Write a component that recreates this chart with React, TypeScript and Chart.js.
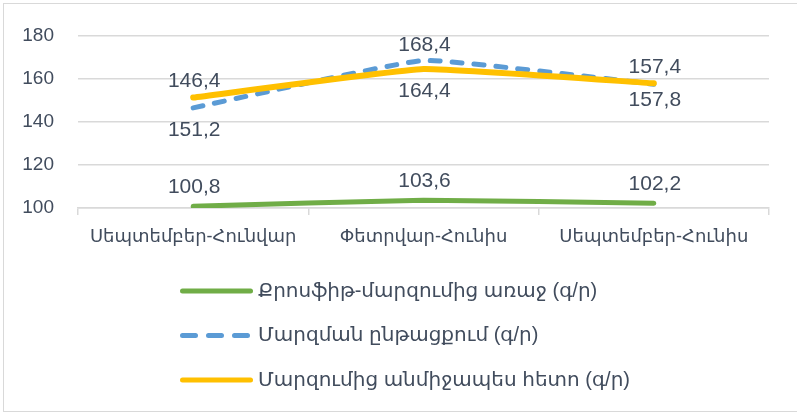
import React, { useEffect, useRef } from "react";
import { Chart, registerables } from "chart.js";

Chart.register(...registerables);

const categories = ["Սեպտեմբեր-Հունվար", "Փետրվար-Հունիս", "Սեպտեմբեր-Հունիս"];
const seriesNames = [
  "Քրոսֆիթ-մարզումից առաջ (գ/ր)",
  "Մարզման ընթացքում (գ/ր)",
  "Մարզումից անմիջապես հետո (գ/ր)",
];
const beforeValues = [100.8, 103.6, 102.2];
const duringValues = [146.4, 168.4, 157.4];
const afterValues = [151.2, 164.4, 157.8];
const yTicks = [100, 120, 140, 160, 180];

const TEXT = "#414C5D";
const FONT = '"Liberation Sans", "DejaVu Sans", sans-serif';
const GREEN = "#70AD47";
const BLUE = "#5B9BD5";
const YELLOW = "#FFC000";

const labelsPlugin = {
  id: "valueLabels",
  afterDatasetsDraw(chart: any) {
    const ctx = chart.ctx;
    ctx.save();
    ctx.font = `21px ${FONT}`;
    ctx.fillStyle = TEXT;
    ctx.textAlign = "center";
    ctx.textBaseline = "middle";
    chart.data.datasets.forEach((ds: any, di: number) => {
      const meta = chart.getDatasetMeta(di);
      meta.data.forEach((pt: any, i: number) => {
        const v = ds.data[i];
        const off = ds.labelOffsets ? ds.labelOffsets[i] : -18;
        ctx.fillText(v.toFixed(1).replace(".", ","), pt.x + 1, pt.y + off);
      });
    });
    ctx.restore();
  },
};

const legendPlugin = {
  id: "vLegend",
  afterDraw(chart: any) {
    const ctx = chart.ctx;
    ctx.save();
    const x0 = 180;
    const len = 73;
    const y0 = 291;
    const gap = 44.5;
    chart.data.datasets.forEach((ds: any, i: number) => {
      const y = y0 + i * gap;
      ctx.beginPath();
      ctx.lineWidth = 5;
      ctx.lineCap = "round";
      ctx.strokeStyle = ds.borderColor;
      ctx.setLineDash(ds.legendDash || []);
      ctx.moveTo(x0 + 2.5, y);
      ctx.lineTo(x0 + len - 2.5, y);
      ctx.stroke();
      ctx.setLineDash([]);
      ctx.font = `20px ${FONT}`;
      ctx.fillStyle = TEXT;
      ctx.textAlign = "left";
      ctx.textBaseline = "middle";
      ctx.fillText(ds.label, x0 + len + 5, y);
    });
    // outer frame
    ctx.strokeStyle = "#D9D9D9";
    ctx.lineWidth = 1;
    ctx.strokeRect(3.5, 3.5, chart.width + 10, 408);
    ctx.restore();
  },
};

export default function App() {
  const ref = useRef<HTMLCanvasElement>(null);
  useEffect(() => {
    const chart = new Chart(ref.current as HTMLCanvasElement, {
      type: "line",
      data: {
        labels: categories,
        datasets: [
          {
            label: seriesNames[0],
            data: beforeValues,
            borderColor: GREEN,
            backgroundColor: GREEN,
            borderWidth: 5,
            borderCapStyle: "round",
            pointRadius: 0,
            tension: 0.1,
            order: 2,
            labelOffsets: [-19, -19, -19],
          } as any,
          {
            label: seriesNames[1],
            data: duringValues,
            borderColor: BLUE,
            backgroundColor: BLUE,
            borderWidth: 5,
            borderDash: [10, 12],
            borderCapStyle: "round",
            pointRadius: 0,
            tension: 0.1,
            order: 1,
            labelOffsets: [-27, -15, -17],
            legendDash: [13, 13],
          } as any,
          {
            label: seriesNames[2],
            data: afterValues,
            borderColor: YELLOW,
            backgroundColor: YELLOW,
            borderWidth: 6,
            borderCapStyle: "round",
            pointRadius: 0,
            tension: 0.1,
            order: 0,
            labelOffsets: [33, 22, 17],
          } as any,
        ],
      },
      options: {
        animation: false,
        responsive: true,
        maintainAspectRatio: false,
        layout: { padding: { left: 0, right: 28, top: 32, bottom: 0 } },
        plugins: { legend: { display: false }, tooltip: { enabled: false } },
        scales: {
          x: {
            offset: true,
            border: { display: true, color: "#D9D9D9", width: 1.5 },
            grid: {
              display: true,
              offset: true,
              drawOnChartArea: false,
              drawTicks: true,
              tickLength: 7,
              color: "#D9D9D9",
              lineWidth: 1.5,
            },
            ticks: {
              autoSkip: false,
              maxRotation: 0,
              color: TEXT,
              font: { size: 18, family: FONT },
              padding: 11,
            },
            afterFit: (s: any) => {
              s.height = 205;
            },
          },
          y: {
            min: 100,
            max: 180,
            border: { display: false },
            grid: { color: "#D9D9D9", lineWidth: 1.5, drawTicks: false },
            ticks: {
              color: TEXT,
              font: { size: 19, family: FONT },
              padding: 24,
              stepSize: 20,
              callback: (v: any) => (yTicks.includes(v) ? String(v) : ""),
            },
            afterFit: (s: any) => {
              s.width = 78;
            },
          },
        },
      },
      plugins: [labelsPlugin, legendPlugin],
    });
    return () => chart.destroy();
  }, []);
  return (
    <div style={{ position: "fixed", left: 0, top: 0, width: 797, height: 413, background: "#fff" }}>
      <canvas ref={ref} />
    </div>
  );
}
